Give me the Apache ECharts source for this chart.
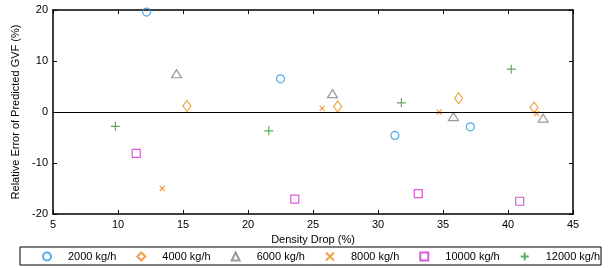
<!DOCTYPE html>
<html>
<head>
<meta charset="utf-8">
<script src="https://cdn.jsdelivr.net/npm/echarts@6/dist/echarts.min.js"></script>
<style>
  html, body { margin: 0; padding: 0; background: #fff; }
  #chart { width: 613px; height: 268px; }
</style>
</head>
<body>
<div id="chart"></div>
<script>
// data: [density drop %, relative error %]
var flow2000 = [[12.2, 19.6], [22.5, 6.5], [31.3, -4.6], [37.1, -2.9]];
var flow4000 = [[15.3, 1.2], [26.9, 1.1], [36.2, 2.7], [42.0, 0.9]];
var flow6000 = [[14.5, 7.5], [26.5, 3.6], [35.8, -0.9], [42.7, -1.2]];
var flow8000 = [[13.4, -15.0], [25.7, 0.7], [34.7, 0.0], [42.2, -0.3]];
var flow10000 = [[11.4, -8.1], [23.6, -17.1], [33.1, -16.0], [40.9, -17.5]];
var flow12000 = [[9.8, -2.8], [21.6, -3.7], [31.8, 1.8], [40.25, 8.4]];

var seriesNames = ['2000 kg/h', '4000 kg/h', '6000 kg/h', '8000 kg/h', '10000 kg/h', '12000 kg/h'];
var xTicks = [5, 10, 15, 20, 25, 30, 35, 40, 45];
var yTicks = [-20, -10, 0, 10, 20];

var font = 'Liberation Sans, Arial, sans-serif';
var chart = echarts.init(document.getElementById('chart'));

function hollow(name, data, symbol, size, color) {
  return {
    name: name,
    type: 'scatter',
    data: data,
    symbol: symbol,
    symbolSize: size,
    itemStyle: { color: 'rgba(255,255,255,0)', borderColor: color, borderWidth: 1.2 }
  };
}

var series = [
  hollow(seriesNames[0], flow2000, 'circle', 8, '#2b96db'),
  hollow(seriesNames[1], flow4000, 'diamond', [8, 11], '#ee8a1c'),
  hollow(seriesNames[2], flow6000, 'triangle', [10, 8], '#808080'),
  hollow(seriesNames[3], flow8000, 'path://M0,0L10,10M10,0L0,10', 5, '#ee8a1c'),
  hollow(seriesNames[4], flow10000, 'rect', 8, '#cc33cc'),
  hollow(seriesNames[5], flow12000, 'path://M5,0L5,10M0,5L10,5', 9, '#2e9e2e')
];
// zero line
series[0].markLine = {
  silent: true,
  symbol: 'none',
  label: { show: false },
  lineStyle: { color: '#000', width: 1, type: 'solid' },
  data: [{ yAxis: 0 }]
};

var option = {
  animation: false,
  grid: { left: 53, right: 40, top: 10, bottom: 54 },
  legend: {
    data: seriesNames,
    left: 42,
    top: 251,
    padding: 0,
    itemWidth: 8,
    itemHeight: 8,
    itemGap: 20,
    textStyle: { fontFamily: font, fontSize: 11, color: '#000', padding: [0, 0, 0, 12] }
  },
  graphic: [{
    type: 'rect',
    shape: { x: 20, y: 247, width: 581, height: 18 },
    style: { fill: 'none', stroke: '#000', lineWidth: 1 }
  }],
  xAxis: [{
    type: 'value', min: 5, max: 45, interval: 5,
    name: 'Density Drop (%)', nameLocation: 'middle', nameGap: 18,
    nameTextStyle: { fontFamily: font, fontSize: 11, color: '#000' },
    axisLine: { onZero: false, lineStyle: { color: '#000', width: 1.5 } },
    axisTick: { inside: true, length: 4, lineStyle: { color: '#000' } },
    axisLabel: { fontFamily: font, fontSize: 11, color: '#000', margin: 5,
      formatter: function (v) { return xTicks.indexOf(v) >= 0 ? v : ''; } },
    splitLine: { show: false }
  }, {
    type: 'value', min: 5, max: 45, interval: 5, position: 'top',
    axisLine: { onZero: false, lineStyle: { color: '#000', width: 1.5 } },
    axisTick: { inside: true, length: 4, lineStyle: { color: '#000' } },
    axisLabel: { show: false },
    splitLine: { show: false }
  }],
  yAxis: [{
    type: 'value', min: -20, max: 20, interval: 10,
    name: 'Relative Error of Predicted GVF (%)', nameLocation: 'middle', nameGap: 28,
    nameTextStyle: { fontFamily: font, fontSize: 11, color: '#000' },
    axisLine: { onZero: false, lineStyle: { color: '#000', width: 1.5 } },
    axisTick: { inside: true, length: 4, lineStyle: { color: '#000' } },
    axisLabel: { fontFamily: font, fontSize: 11, color: '#000', margin: 5,
      formatter: function (v) { return yTicks.indexOf(v) >= 0 ? v : ''; } },
    splitLine: { show: false }
  }, {
    type: 'value', min: -20, max: 20, interval: 10, position: 'right',
    axisLine: { onZero: false, lineStyle: { color: '#000', width: 1.5 } },
    axisTick: { inside: true, length: 4, lineStyle: { color: '#000' } },
    axisLabel: { show: false },
    splitLine: { show: false }
  }],
  series: series
};

chart.setOption(option);
</script>
</body>
</html>
